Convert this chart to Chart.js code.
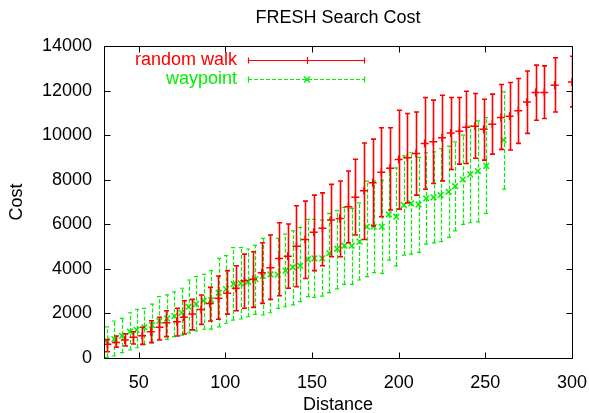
<!DOCTYPE html>
<html>
<head>
<meta charset="utf-8">
<script src="https://cdn.jsdelivr.net/npm/chart.js@4/dist/chart.umd.min.js"></script>
<style>
  html, body { margin: 0; padding: 0; background: #fff; }
</style>
</head>
<body>
<canvas id="myChart" width="589" height="413"></canvas>
<script>
// random walk: distance, mean cost, error bar low / high
var rwDist = [32, 37, 42, 47, 52, 57, 62, 66, 72, 76, 81, 86, 91, 96, 101, 106, 111, 116, 121, 126,
  131, 136, 141, 146, 151, 156, 161, 166, 171, 175, 180, 185, 190, 195, 200, 205, 210, 215, 220, 225,
  230, 235, 239, 244, 249, 254, 259, 264, 269, 274, 279, 284, 290, 300];
var rwCost = [620, 690, 810, 930, 1000, 1180, 1380, 1580, 1630, 1830, 1970, 2180, 2450, 2680, 2900, 3130, 3470, 3530, 3830, 4050,
  4470, 4570, 5020, 5320, 5640, 5820, 6190, 6260, 6790, 7210, 7500, 7860, 8330, 8510, 8910, 8980, 9180, 9630, 9700, 9880,
  10100, 10180, 10350, 10400, 10260, 10490, 10790, 10850, 11090, 11490, 11910, 11910, 12240, 12390];
var rwLow = [280, 480, 540, 630, 610, 690, 810, 960, 990, 1080, 1260, 1510, 1660, 1740, 1970, 2120, 2230, 2270, 2450, 2630,
  2790, 3130, 3200, 3570, 3920, 4140, 4540, 4540, 5170, 5520, 5320, 5930, 6340, 6640, 6680, 6960, 7310, 7570, 7830, 7950,
  8460, 8700, 8730, 8960, 8880, 9150, 9360, 9330, 9630, 10080, 10670, 10750, 11040, 11270];
var rwHigh = [820, 990, 1090, 1180, 1380, 1670, 1830, 2120, 2230, 2570, 2630, 2830, 3170, 3680, 3920, 4140, 4660, 4770, 5170, 5520,
  6070, 6010, 6830, 7040, 7310, 7410, 7790, 7940, 8390, 8920, 9650, 9820, 10330, 10330, 11120, 10970, 11040, 11690, 11570, 11790,
  11690, 11690, 11970, 11870, 11610, 11840, 12270, 12360, 12540, 12880, 13140, 13110, 13470, 13540];

// waypoint
var wpDist = [31.5, 36, 40.4, 45, 48.8, 53.3, 57.7, 61.9, 66.4, 70.6, 74.8, 78.8, 83.1, 87.5, 91.8, 96.2, 100.4, 104.7, 108.9, 113.2,
  117.4, 121.6, 126, 130.2, 134.7, 138.9, 143.2, 147.6, 151.4, 155.9, 160, 164.5, 168.7, 172.9, 177.4, 181.6, 185.6, 190.3, 194.3, 198.6,
  203, 207.2, 211.5, 215.9, 220.1, 224.2, 228.8, 232.6, 237, 241.3, 245.7, 250.5, 260.5];
var wpCost = [780, 850, 990, 1180, 1260, 1380, 1480, 1660, 1780, 1880, 2030, 2300, 2420, 2570, 2600, 2930, 3090, 3320, 3350, 3420,
  3540, 3680, 3750, 3740, 3920, 4070, 4140, 4430, 4470, 4470, 4700, 4900, 5040, 5040, 5220, 5890, 5890, 5890, 6440, 6340,
  6860, 6940, 6890, 7160, 7210, 7310, 7460, 7710, 8010, 8240, 8390, 8620, 9780];
var wpLow = [30, 90, 240, 360, 460, 610, 690, 840, 840, 960, 1030, 1130, 1220, 1290, 1300, 1400, 1560, 1700, 1750, 1850,
  1960, 1930, 2030, 2230, 2300, 2380, 2530, 2750, 2720, 2780, 2930, 3100, 3300, 3300, 3500, 3650, 3830, 3800, 4390, 4130,
  4620, 4660, 4740, 5110, 5170, 5220, 5410, 5700, 6000, 6070, 6110, 6490, 7580];
var wpHigh = [1400, 1660, 1780, 2030, 2180, 2230, 2420, 2750, 2830, 2970, 3130, 3500, 3650, 3750, 3920, 4470, 4590, 4950, 4950, 4890,
  5050, 5370, 5520, 5370, 5560, 5700, 5860, 6220, 6220, 6190, 6490, 6610, 6760, 6710, 6960, 7940, 7940, 7980, 8510, 8530,
  9070, 9210, 9000, 9210, 9250, 9400, 9510, 9700, 10000, 10420, 10640, 10790, 11940];

var xTicks = [50, 100, 150, 200, 250, 300];
var yTicks = [0, 2000, 4000, 6000, 8000, 10000, 12000, 14000];

var FONT = "'Liberation Sans', Arial, Helvetica, sans-serif";
var RED = "#ff0000";
var GREEN = "#00f000";

function toPoints(xs, ys) {
  var pts = [];
  for (var i = 0; i < xs.length; i++) pts.push({ x: xs[i], y: ys[i] });
  return pts;
}

// gnuplot style error bars, drawn before each dataset's markers
var errorBars = {
  id: "errorBars",
  beforeDatasetDraw: function (chart, args) {
    var ds = chart.data.datasets[args.index];
    if (!ds.errLow) return;
    var xs = chart.scales.x, ys = chart.scales.y, ctx = chart.ctx, a = chart.chartArea;
    ctx.save();
    ctx.beginPath();
    ctx.rect(a.left, a.top, a.right - a.left, a.bottom - a.top);
    ctx.clip();
    ctx.strokeStyle = ds.borderColor;
    ctx.lineWidth = ds.errWidth;
    ctx.setLineDash(ds.errDash);
    for (var i = 0; i < ds.data.length; i++) {
      var px = Math.round(xs.getPixelForValue(ds.data[i].x)) + 0.5;
      var lo = ys.getPixelForValue(ds.errLow[i]);
      var hi = ys.getPixelForValue(ds.errHigh[i]);
      ctx.beginPath();
      ctx.moveTo(px, lo);
      ctx.lineTo(px, hi);
      ctx.moveTo(px - 2.5, lo);
      ctx.lineTo(px + 2.5, lo);
      ctx.moveTo(px - 2.5, hi);
      ctx.lineTo(px + 2.5, hi);
      ctx.stroke();
    }
    ctx.restore();
  }
};

// frame, mirrored inward ticks, title and key
var frame = {
  id: "frame",
  afterDraw: function (chart) {
    var ctx = chart.ctx, a = chart.chartArea;
    var xs = chart.scales.x, ys = chart.scales.y;
    var L = Math.round(a.left) + 0.5, R = Math.round(a.right) + 0.5;
    var T = Math.round(a.top) + 0.5, B = Math.round(a.bottom) + 0.5;
    ctx.save();
    ctx.strokeStyle = "#000";
    ctx.lineWidth = 1;
    ctx.beginPath();
    ctx.rect(L, T, R - L, B - T);
    xs.ticks.forEach(function (t) {
      var px = Math.round(xs.getPixelForValue(t.value)) + 0.5;
      ctx.moveTo(px, B); ctx.lineTo(px, B - 6);
      ctx.moveTo(px, T); ctx.lineTo(px, T + 6);
    });
    ys.ticks.forEach(function (t) {
      var py = Math.round(ys.getPixelForValue(t.value)) + 0.5;
      ctx.moveTo(L, py); ctx.lineTo(L + 6, py);
      ctx.moveTo(R, py); ctx.lineTo(R - 6, py);
    });
    ctx.stroke();

    ctx.fillStyle = "#000";
    ctx.font = "18px " + FONT;
    ctx.textAlign = "center";
    ctx.textBaseline = "middle";
    ctx.fillText("FRESH Search Cost", (a.left + a.right) / 2, 18);

    // key
    var keys = [
      { label: "random walk", color: RED, y: 60, dash: [], mark: "plus" },
      { label: "waypoint", color: GREEN, y: 79, dash: [4, 2], mark: "x" }
    ];
    keys.forEach(function (k) {
      ctx.fillStyle = k.color;
      ctx.textAlign = "right";
      ctx.fillText(k.label, 237, k.y);
      ctx.strokeStyle = k.color;
      ctx.lineWidth = 1.2;
      var y = k.y + 0.5;
      ctx.setLineDash(k.dash);
      ctx.beginPath();
      ctx.moveTo(248, y); ctx.lineTo(365, y);
      ctx.stroke();
      ctx.setLineDash([]);
      ctx.beginPath();
      ctx.moveTo(248.5, y - 3); ctx.lineTo(248.5, y + 3);
      ctx.moveTo(364.5, y - 3); ctx.lineTo(364.5, y + 3);
      if (k.mark === "plus") {
        ctx.moveTo(307.5, y - 3.5); ctx.lineTo(307.5, y + 3.5);
      } else {
        ctx.moveTo(304, y - 3); ctx.lineTo(310, y + 3);
        ctx.moveTo(304, y + 3); ctx.lineTo(310, y - 3);
      }
      ctx.stroke();
    });
    ctx.restore();
  }
};

var ctx = document.getElementById("myChart").getContext("2d");
var chart = new Chart(ctx, {
  type: "scatter",
  data: {
    datasets: [
      {
        label: "random walk",
        data: toPoints(rwDist, rwCost),
        errLow: rwLow,
        errHigh: rwHigh,
        errWidth: 1.6,
        errDash: [],
        borderColor: RED,
        backgroundColor: RED,
        pointStyle: "cross",
        pointRadius: 4,
        pointBorderWidth: 1.5,
        showLine: false
      },
      {
        label: "waypoint",
        data: toPoints(wpDist, wpCost),
        errLow: wpLow,
        errHigh: wpHigh,
        errWidth: 1.2,
        errDash: [4, 2],
        borderColor: GREEN,
        backgroundColor: GREEN,
        pointStyle: "crossRot",
        pointRadius: 4,
        pointBorderWidth: 1.5,
        showLine: false
      }
    ]
  },
  options: {
    responsive: false,
    animation: false,
    devicePixelRatio: 1,
    layout: { padding: { top: 46, right: 17, left: 0, bottom: 0 } },
    plugins: {
      legend: { display: false },
      tooltip: { enabled: false },
      title: { display: false }
    },
    scales: {
      x: {
        type: "linear",
        min: 30,
        max: 300,
        afterBuildTicks: function (s) {
          s.ticks = xTicks.map(function (v) { return { value: v }; });
        },
        afterFit: function (s) {
          s.height = 55;
          s.paddingLeft = 0;
          s.paddingRight = 0;
        },
        grid: { display: false, drawTicks: false },
        border: { display: false },
        ticks: {
          color: "#000",
          padding: 14,
          font: { family: FONT, size: 18 },
          callback: function (v) { return String(v); }
        },
        title: {
          display: true,
          text: "Distance",
          color: "#000",
          padding: { top: 0, bottom: -1 },
          font: { family: FONT, size: 18, lineHeight: 1 }
        }
      },
      y: {
        min: 0,
        max: 14000,
        afterBuildTicks: function (s) {
          s.ticks = yTicks.map(function (v) { return { value: v }; });
        },
        afterFit: function (s) {
          s.width = 104;
          s.paddingTop = 0;
          s.paddingBottom = 0;
        },
        grid: { display: false, drawTicks: false },
        border: { display: false },
        ticks: {
          color: "#000",
          padding: 12,
          font: { family: FONT, size: 18 },
          callback: function (v) { return String(v); }
        },
        title: {
          display: true,
          text: "Cost",
          color: "#000",
          padding: { top: 8, bottom: 0 },
          font: { family: FONT, size: 18, lineHeight: 1 }
        }
      }
    }
  },
  plugins: [errorBars, frame]
});
</script>
</body>
</html>
